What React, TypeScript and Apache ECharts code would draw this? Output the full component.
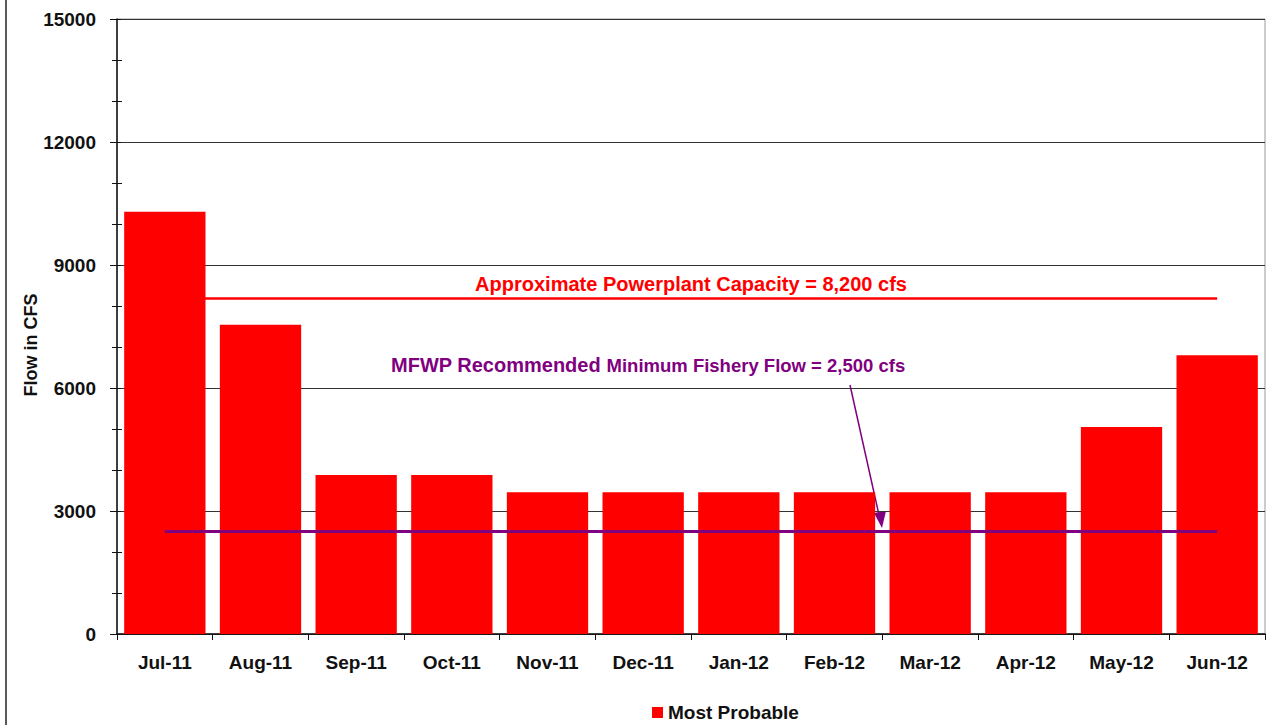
import React, { useEffect, useRef } from "react";
import * as echarts from "echarts";

const categories = ["Jul-11", "Aug-11", "Sep-11", "Oct-11", "Nov-11", "Dec-11", "Jan-12", "Feb-12", "Mar-12", "Apr-12", "May-12", "Jun-12"];
const mostProbable = [10300, 7540, 3880, 3880, 3460, 3460, 3460, 3460, 3460, 3460, 5050, 6800];
const capacityFlow = 8200;
const fisheryFlow = 2500;
const yAxisTitle = "Flow in CFS";
const capacityLabel = "Approximate Powerplant Capacity = 8,200 cfs";
const fisheryLabelBig = "MFWP Recommended ";
const fisheryLabelSmall = "Minimum Fishery Flow = 2,500 cfs";

const FONT = 'Arial, "Liberation Sans", sans-serif';
const PURPLE = "#800080";

export default function App() {
  const ref = useRef<HTMLDivElement>(null);
  useEffect(() => {
    if (!ref.current) return;
    const chart = echarts.init(ref.current, null, { renderer: "svg" });
    const yCommon = {
      type: "value" as const,
      min: 0,
      max: 15000,
      interval: 3000,
      position: "left" as const,
    };
    chart.setOption({
      animation: false,
      backgroundColor: "#fff",
      grid: { left: 117, right: 3, top: 19, bottom: 91, show: true, borderColor: "#999", borderWidth: 1 },
      legend: {
        left: 652,
        top: 703,
        itemWidth: 11,
        itemHeight: 11,
        icon: "rect",
        itemGap: 4,
        padding: 0,
        textStyle: { fontFamily: FONT, fontWeight: "bold", fontSize: 19, color: "#111" },
        data: ["Most Probable"],
      },
      xAxis: {
        type: "category",
        data: categories,
        axisLine: { lineStyle: { color: "#111", width: 1.5 } },
        axisTick: { show: true, length: 6, lineStyle: { color: "#111" } },
        axisLabel: { fontFamily: FONT, fontWeight: "bold", fontSize: 19, color: "#111", margin: 19 },
      },
      yAxis: [
        {
          ...yCommon,
          axisLine: { show: true, lineStyle: { color: "#111", width: 1.5 } },
          axisTick: { show: true, length: 7, lineStyle: { color: "#111" } },
          minorTick: { show: true, splitNumber: 3, length: 5, lineStyle: { color: "#111" } },
          axisLabel: {
            fontFamily: FONT,
            fontWeight: "bold",
            fontSize: 19,
            color: "#111",
            margin: 21,
            formatter: (v: number) => String(v),
          },
          splitLine: { show: true, lineStyle: { color: "#333", width: 1.2 } },
        },
        {
          ...yCommon,
          axisLine: { show: false },
          axisTick: { show: true, inside: true, length: 4, lineStyle: { color: "#111" } },
          minorTick: { show: true, splitNumber: 3, length: 5, lineStyle: { color: "#111" } },
          axisLabel: { show: false },
          splitLine: { show: false },
        },
      ],
      series: [
        {
          name: "Most Probable",
          type: "bar",
          data: mostProbable,
          barCategoryGap: "15%",
          itemStyle: { color: "#ff0000" },
          markLine: {
            silent: true,
            symbol: "none",
            data: [
              [
                {
                  xAxis: categories[0],
                  yAxis: capacityFlow,
                  lineStyle: { color: "#ff0000", width: 2.5, type: "solid" },
                  label: {
                    show: true,
                    position: "middle",
                    formatter: capacityLabel,
                    color: "#ff0000",
                    fontFamily: FONT,
                    fontWeight: "bold",
                    fontSize: 20,
                    distance: 4,
                  },
                },
                { xAxis: categories[categories.length - 1], yAxis: capacityFlow },
              ],
              [
                {
                  xAxis: categories[0],
                  yAxis: fisheryFlow,
                  lineStyle: { color: PURPLE, width: 3, type: "solid" },
                  label: { show: false },
                },
                { xAxis: categories[categories.length - 1], yAxis: fisheryFlow },
              ],
            ],
          },
        },
      ],
      graphic: [
        { type: "line", shape: { x1: 6, y1: 0, x2: 6, y2: 725 }, style: { stroke: "#222", lineWidth: 1.5 } },
        {
          type: "text",
          x: 31,
          y: 345,
          rotation: Math.PI / 2,
          style: {
            text: yAxisTitle,
            fontFamily: FONT,
            fontWeight: "bold",
            fontSize: 18,
            fill: "#111",
            align: "center",
            verticalAlign: "middle",
          },
        },
        {
          type: "text",
          left: 391,
          top: 355,
          style: {
            text: "{a|" + fisheryLabelBig + "}{b|" + fisheryLabelSmall + "}",
            rich: {
              a: { fontFamily: FONT, fontWeight: "bold", fontSize: 20, fill: PURPLE, verticalAlign: "bottom" },
              b: { fontFamily: FONT, fontWeight: "bold", fontSize: 18.5, fill: PURPLE, verticalAlign: "bottom" },
            },
          } as any,
        },
        { type: "line", shape: { x1: 850, y1: 385, x2: 879, y2: 515 }, style: { stroke: PURPLE, lineWidth: 1.5 } },
        { type: "polygon", shape: { points: [[874, 513], [886, 511], [882, 528]] }, style: { fill: PURPLE } },
      ],
    });
    return () => chart.dispose();
  }, []);
  return <div ref={ref} style={{ position: "absolute", left: 0, top: 0, width: 1268, height: 725 }} />;
}
